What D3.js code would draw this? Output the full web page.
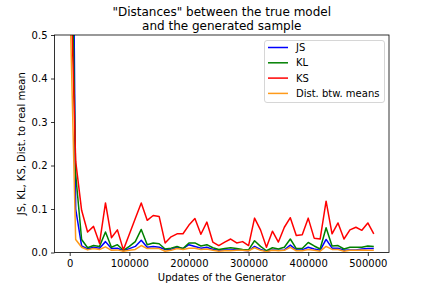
<!DOCTYPE html>
<html>
<head>
<meta charset="utf-8" />
<style>
html, body { margin: 0; padding: 0; background: #fff; }
svg text { font-family: "DejaVu Sans", sans-serif; fill: #000; }
</style>
</head>
<body>
<div id="chart"></div>
<script src="https://cdn.jsdelivr.net/npm/d3@7/dist/d3.min.js"></script>
<script>
// updates of the generator, one evaluation every 10000
var updates = d3.range(0, 520000, 10000);

var jsVals = [1.7, 0.1, 0.015, 0.008, 0.012, 0.01, 0.025, 0.009, 0.01, 0.004,
  0.009, 0.014, 0.028, 0.012, 0.014, 0.012, 0.007, 0.007, 0.012, 0.009,
  0.018, 0.014, 0.01, 0.012, 0.007, 0.005, 0.006, 0.006, 0.007, 0.005,
  0.004, 0.014, 0.007, 0.003, 0.006, 0.005, 0.006, 0.017, 0.006, 0.006,
  0.012, 0.008, 0.005, 0.03, 0.01, 0.01, 0.005, 0.006, 0.006, 0.008,
  0.009, 0.009];
var klVals = [0.98, 0.18, 0.03, 0.011, 0.016, 0.014, 0.047, 0.012, 0.018, 0.005,
  0.014, 0.025, 0.053, 0.018, 0.022, 0.02, 0.008, 0.01, 0.014, 0.009,
  0.022, 0.022, 0.015, 0.018, 0.011, 0.007, 0.009, 0.011, 0.009, 0.007,
  0.006, 0.027, 0.014, 0.004, 0.011, 0.008, 0.012, 0.031, 0.009, 0.009,
  0.023, 0.015, 0.008, 0.057, 0.015, 0.016, 0.008, 0.012, 0.012, 0.012,
  0.015, 0.014];
var ksVals = [0.71, 0.21, 0.097, 0.047, 0.06, 0.021, 0.114, 0.034, 0.052, 0.006,
  0.042, 0.078, 0.114, 0.074, 0.085, 0.083, 0.022, 0.036, 0.043, 0.043,
  0.063, 0.078, 0.042, 0.07, 0.024, 0.016, 0.024, 0.031, 0.022, 0.025,
  0.016, 0.079, 0.052, 0.012, 0.049, 0.024, 0.058, 0.08, 0.039, 0.041,
  0.079, 0.033, 0.031, 0.118, 0.043, 0.068, 0.031, 0.052, 0.058, 0.051,
  0.068, 0.043];
var meanVals = [0.6, 0.03, 0.012, 0.006, 0.009, 0.007, 0.013, 0.005, 0.006, 0.003,
  0.005, 0.007, 0.016, 0.009, 0.009, 0.009, 0.003, 0.005, 0.009, 0.007,
  0.01, 0.01, 0.007, 0.008, 0.005, 0.003, 0.004, 0.004, 0.005, 0.005,
  0.004, 0.011, 0.005, 0.002, 0.005, 0.004, 0.005, 0.012, 0.004, 0.004,
  0.007, 0.005, 0.003, 0.014, 0.007, 0.007, 0.003, 0.005, 0.005, 0.006,
  0.005, 0.005];

var seriesNames = ["JS", "KL", "KS", "Dist. btw. means"];
var seriesColors = ["#0000ff", "#008000", "#ff0000", "#ff9a1a"];
var xTicks = [0, 100000, 200000, 300000, 400000, 500000];
var yTicks = [0, 0.1, 0.2, 0.3, 0.4, 0.5];

var series = [jsVals, klVals, ksVals, meanVals];

var W = 432, H = 288;
var pL = 54.5, pR = 389, pT = 35, pB = 252.5;

var svg = d3.select("#chart").append("svg")
  .attr("width", W).attr("height", H);

// 5% margins like matplotlib
var span = d3.max(updates) - d3.min(updates);
var x = d3.scaleLinear()
  .domain([d3.min(updates) - 0.05 * span, d3.max(updates) + 0.05 * span])
  .range([pL, pR]);
var y = d3.scaleLinear().domain([0, 0.5]).range([pB, pT]);

svg.append("clipPath").attr("id", "clip")
  .append("rect")
  .attr("x", pL).attr("y", pT)
  .attr("width", pR - pL).attr("height", pB - pT);

var line = d3.line()
  .x(function(d, i) { return x(updates[i]); })
  .y(function(d) { return y(d); });

var plot = svg.append("g").attr("clip-path", "url(#clip)");
series.forEach(function(s, i) {
  plot.append("path")
    .attr("d", line(s))
    .attr("fill", "none")
    .attr("stroke", seriesColors[i])
    .attr("stroke-width", 1.5)
    .attr("stroke-linejoin", "round");
});

// axes
var xAxis = svg.append("g")
  .attr("transform", "translate(0," + pB + ")")
  .call(d3.axisBottom(x).tickValues(xTicks).tickFormat(d3.format("d"))
    .tickSizeInner(3.5).tickSizeOuter(0).tickPadding(3.5));
var yAxis = svg.append("g")
  .attr("transform", "translate(" + pL + ",0)")
  .call(d3.axisLeft(y).tickValues(yTicks).tickFormat(d3.format(".1f"))
    .tickSizeInner(3.5).tickSizeOuter(0).tickPadding(3.5));

[xAxis, yAxis].forEach(function(a) {
  a.select(".domain").remove();
  a.selectAll("line").attr("stroke", "#000").attr("stroke-width", 0.8);
  a.selectAll("text").attr("font-size", 10).attr("fill", "#000")
    .style("font-family", "DejaVu Sans, sans-serif");
});

// frame
svg.append("rect")
  .attr("x", pL).attr("y", pT)
  .attr("width", pR - pL).attr("height", pB - pT)
  .attr("fill", "none").attr("stroke", "#000").attr("stroke-width", 0.8);

// labels
svg.append("text")
  .attr("x", (pL + pR) / 2).attr("y", 281)
  .attr("text-anchor", "middle").attr("font-size", 10)
  .text("Updates of the Generator");

svg.append("text")
  .attr("transform", "translate(25," + ((pT + pB) / 2) + ") rotate(-90)")
  .attr("text-anchor", "middle").attr("font-size", 10)
  .text("JS, KL, KS, Dist. to real mean");

var title = svg.append("text")
  .attr("text-anchor", "middle").attr("font-size", 12);
title.append("tspan").attr("x", (pL + pR) / 2).attr("y", 15.5)
  .text("\"Distances\" between the true model");
title.append("tspan").attr("x", (pL + pR) / 2).attr("y", 29.5)
  .text("and the generated sample");

// legend
var lg = svg.append("g");
lg.append("rect")
  .attr("x", 264.5).attr("y", 40.5).attr("width", 120).attr("height", 62)
  .attr("rx", 2.5)
  .attr("fill", "#fff").attr("fill-opacity", 0.8)
  .attr("stroke", "#cccccc").attr("stroke-width", 0.8);
seriesNames.forEach(function(name, i) {
  var yy = 47.5 + i * 15.3;
  lg.append("line")
    .attr("x1", 268).attr("x2", 288).attr("y1", yy).attr("y2", yy)
    .attr("stroke", seriesColors[i]).attr("stroke-width", 1.5);
  lg.append("text")
    .attr("x", 296).attr("y", yy + 3.6).attr("font-size", 10)
    .text(name);
});
</script>
</body>
</html>
